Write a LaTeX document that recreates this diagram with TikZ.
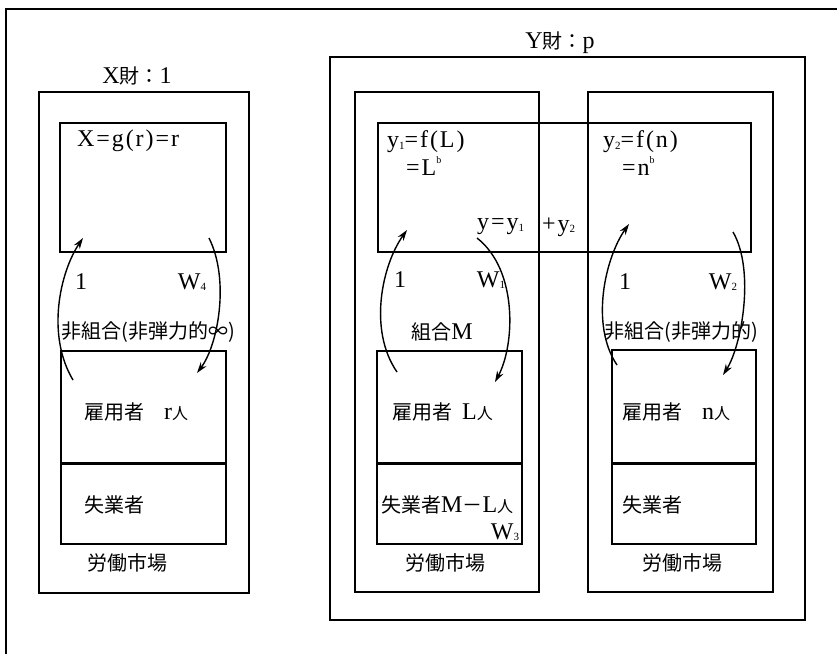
\documentclass[tikz,border=0pt]{standalone}
\usepackage{fontspec}
\setmainfont{Liberation Serif}
\newfontfamily\jp{Noto Sans CJK JP}
\newfontfamily\lt[LetterSpace=8]{Liberation Serif}
\usetikzlibrary{arrows.meta}
\newcommand{\mysub}[1]{\raisebox{-0.05em}{\fontsize{11}{11}\selectfont #1}}
\newcommand{\mysup}[1]{\raisebox{0.5em}{\fontsize{10}{10}\selectfont #1}}
\newcommand{\lat}[1]{{\lt\fontsize{24}{24}\selectfont #1}}
\newcommand{\nin}{{\fontsize{16}{16}\selectfont 人}}
\begin{document}
\begin{tikzpicture}[x=1pt,y=-1pt,
  box/.style={draw, line width=1.6pt, inner sep=0pt, outer sep=0pt},
  jtxt/.style={inner sep=0pt, font=\jp\fontsize{20}{22}\selectfont},
  ltxt/.style={inner sep=0pt, font=\lt\fontsize{24}{26}\selectfont},
  conn/.style={line width=1.4pt, -{Stealth[length=11pt,width=7pt]}},
  divider/.style={line width=3pt}]
\useasboundingbox (0,0) rectangle (837,654);
% outer frame
\draw[line width=1.6pt] (6,654) -- (6,9) -- (837,9);

% ===== X good =====
\node[box, minimum width=210, minimum height=501] (xbox) at (144,342.5) {};
\node[box, minimum width=166, minimum height=129] (xprod) at (143,187.5) {};
\node[box, minimum width=165, minimum height=112] (xemp) at (143.5,407) {};
\node[box, minimum width=165, minimum height=81] (xun) at (143.5,503.5) {};
\draw[divider] (xemp.south west) -- (xemp.south east);

\node[jtxt] (xtitle) at (137,76) {\lat{X}財：\lat{1}};
\node[ltxt, anchor=west] (xf) at (77,141) {X=g(r)=r};
\node[ltxt] (xone) at (81,282) {1};
\node[ltxt] (xw) at (192,282) {W\mysub{4}};
\node[jtxt] (xlab) at (148,332) {非組合(非弾力的∞)};
\node[jtxt, anchor=west] (xempt) at (84,412) {雇用者\hspace{1em}\lat{r}\nin};
\node[jtxt, anchor=west] (xunt) at (84,505) {失業者};
\node[jtxt] (xmk) at (127,563) {労働市場};

\coordinate (xa1s) at (73,380);
\coordinate (xa1e) at (83,238);
\coordinate (xa2s) at (209,238);
\coordinate (xa2e) at (197,373);
\draw[conn] (xa1s) .. controls (46,335) and (60,272) .. (xa1e);
\draw[conn] (xa2s) .. controls (230,280) and (218,345) .. (xa2e);

% ===== Y good =====
\node[box, minimum width=475, minimum height=563] (ybox) at (567.5,338.5) {};
\node[box, minimum width=373, minimum height=129] (yprod) at (564.5,187.5) {};
\node[box, minimum width=184, minimum height=500] (ycol1) at (447,342) {};
\node[box, minimum width=185, minimum height=500] (ycol2) at (680.5,342) {};
\node[box, minimum width=145, minimum height=112] (y1emp) at (449.5,407) {};
\node[box, minimum width=145, minimum height=81] (y1un) at (449.5,503.5) {};
\draw[divider] (y1emp.south west) -- (y1emp.south east);
\node[box, minimum width=144, minimum height=113] (y2emp) at (684,406.5) {};
\node[box, minimum width=144, minimum height=81] (y2un) at (684,503.5) {};
\draw[divider] (y2emp.south west) -- (y2emp.south east);

\node[jtxt] (ytitle) at (560,43) {\lat{Y}財：\lat{p}};
\node[ltxt, anchor=west] (yf1) at (387,142) {y\mysub{1}=f(L)};
\node[ltxt, anchor=west] (yf1b) at (406,166) {=L\mysup{b}};
\node[ltxt, anchor=west] (ysum1) at (477,227) {y=y\mysub{1}};
\node[ltxt, anchor=west] (ysum2) at (542,227) {+y\mysub{2}};
\node[ltxt, anchor=west] (yf2) at (603,142) {y\mysub{2}=f(n)};
\node[ltxt, anchor=west] (yf2b) at (622,166) {=n\mysup{b}};

\node[ltxt] (y1one) at (400,280) {1};
\node[ltxt] (y1w) at (491,280) {W\mysub{1}};
\node[jtxt] (y1lab) at (442,332) {組合\lat{M}};
\node[jtxt, anchor=west] (y1empt) at (392,412) {雇用者\hspace{0.5em}\lat{L}\nin};
\node[jtxt, anchor=west] (y1unt) at (381,505) {失業者\lat{M}－\lat{L}\nin};
\node[ltxt] (y1w3) at (505,532) {W\mysub{3}};
\node[jtxt] (y1mk) at (445,563) {労働市場};

\node[ltxt] (y2one) at (625,282) {1};
\node[ltxt] (y2w) at (723,282) {W\mysub{2}};
\node[jtxt] (y2lab) at (681,332) {非組合(非弾力的)};
\node[jtxt, anchor=west] (y2empt) at (622,412) {雇用者\hspace{1em}\lat{n}\nin};
\node[jtxt, anchor=west] (y2unt) at (622,505) {失業者};
\node[jtxt] (y2mk) at (682,563) {労働市場};

\coordinate (ya1s) at (397,372);
\coordinate (ya1e) at (407,230);
\coordinate (ya2s) at (477,238);
\coordinate (ya2e) at (495,382);
\coordinate (yb1s) at (617,365);
\coordinate (yb1e) at (629,224);
\coordinate (yb2s) at (733,232);
\coordinate (yb2e) at (723,375);
\draw[conn] (ya1s) .. controls (368,330) and (382,265) .. (ya1e);
\draw[conn] (ya2s) .. controls (518,270) and (515,345) .. (ya2e);
\draw[conn] (yb1s) .. controls (590,325) and (605,258) .. (yb1e);
\draw[conn] (yb2s) .. controls (755,270) and (742,345) .. (yb2e);
\end{tikzpicture}
\end{document}
